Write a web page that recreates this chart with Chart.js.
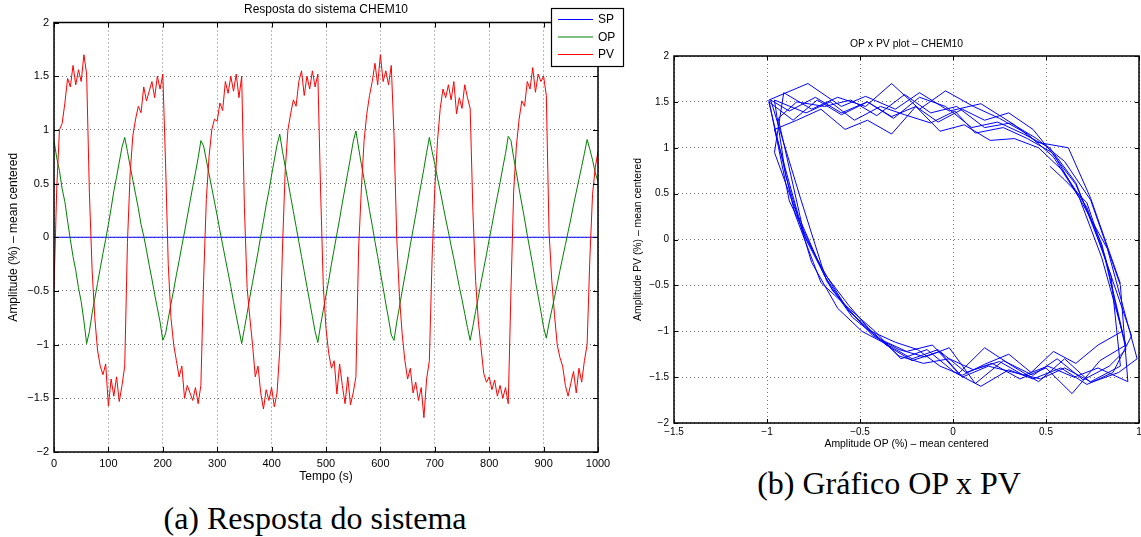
<!DOCTYPE html>
<html lang="pt-BR">
<head>
<meta charset="utf-8">
<title>Resposta do sistema CHEM10</title>
<script src="https://cdn.jsdelivr.net/npm/chart.js@4.4.1/dist/chart.umd.min.js"></script>
<style>
  html, body { margin: 0; padding: 0; background: #fff; width: 1141px; height: 537px; overflow: hidden; }
  #graficoResposta { position: absolute; left: 0; top: 0; }
  #graficoOpPv { position: absolute; left: 630px; top: 0; }
  .legenda {
    position: absolute; transform: translate(-50%, -50%);
    font-family: "Liberation Serif", "Times New Roman", serif; font-size: 32px;
    line-height: 1; color: #000; white-space: nowrap;
  }
</style>
</head>
<body>
<canvas id="graficoResposta" width="630" height="490"></canvas>
<canvas id="graficoOpPv" width="515" height="460"></canvas>
<div class="legenda" style="left:315px; top:518px;">(a) Resposta do sistema</div>
<div class="legenda" style="left:889px; top:483px;">(b) Gráfico OP x PV</div>

<script>
// Tempo (s), amostras lidas a cada 5 s
const tempo = [
  0, 5, 10, 15, 20, 25, 30, 35, 40, 45, 50, 55, 60, 65, 70, 75, 80, 85, 90, 95,
  100, 105, 110, 115, 120, 125, 130, 135, 140, 145, 150, 155, 160, 165, 170, 175, 180, 185, 190, 195,
  200, 205, 210, 215, 220, 225, 230, 235, 240, 245, 250, 255, 260, 265, 270, 275, 280, 285, 290, 295,
  300, 305, 310, 315, 320, 325, 330, 335, 340, 345, 350, 355, 360, 365, 370, 375, 380, 385, 390, 395,
  400, 405, 410, 415, 420, 425, 430, 435, 440, 445, 450, 455, 460, 465, 470, 475, 480, 485, 490, 495,
  500, 505, 510, 515, 520, 525, 530, 535, 540, 545, 550, 555, 560, 565, 570, 575, 580, 585, 590, 595,
  600, 605, 610, 615, 620, 625, 630, 635, 640, 645, 650, 655, 660, 665, 670, 675, 680, 685, 690, 695,
  700, 705, 710, 715, 720, 725, 730, 735, 740, 745, 750, 755, 760, 765, 770, 775, 780, 785, 790, 795,
  800, 805, 810, 815, 820, 825, 830, 835, 840, 845, 850, 855, 860, 865, 870, 875, 880, 885, 890, 895,
  900, 905, 910, 915, 920, 925, 930, 935, 940, 945, 950, 955, 960, 965, 970, 975, 980, 985, 990, 995,
  1000
];

// OP (%) - mean centered
const op = [
  0.90, 0.74, 0.62, 0.45, 0.33, 0.15, -0.02, -0.18, -0.31, -0.47, -0.60, -0.78, -0.99, -0.88, -0.71, -0.57, -0.43, -0.29, -0.15, -0.02,
  0.12, 0.27, 0.43, 0.56, 0.70, 0.84, 0.93, 0.80, 0.66, 0.53, 0.40, 0.27, 0.12, 0.01, -0.12, -0.26, -0.39, -0.53, -0.66, -0.79,
  -0.96, -0.90, -0.76, -0.62, -0.49, -0.35, -0.22, -0.08, 0.05, 0.19, 0.33, 0.47, 0.60, 0.74, 0.90, 0.85, 0.72, 0.59, 0.46, 0.33,
  0.20, 0.06, -0.07, -0.20, -0.33, -0.46, -0.60, -0.73, -0.86, -0.99, -0.85, -0.71, -0.56, -0.42, -0.28, -0.14, 0.01, 0.15, 0.30, 0.43,
  0.58, 0.72, 0.86, 0.96, 0.80, 0.66, 0.52, 0.38, 0.24, 0.10, -0.04, -0.18, -0.32, -0.46, -0.60, -0.74, -0.88, -0.98, -0.82, -0.68,
  -0.54, -0.40, -0.25, -0.11, 0.03, 0.17, 0.32, 0.46, 0.60, 0.74, 0.89, 0.99, 0.83, 0.68, 0.54, 0.40, 0.25, 0.11, -0.04, -0.18,
  -0.33, -0.47, -0.62, -0.76, -0.91, -0.96, -0.79, -0.65, -0.50, -0.36, -0.22, -0.07, 0.07, 0.21, 0.36, 0.50, 0.64, 0.79, 0.93, 0.80,
  0.68, 0.55, 0.43, 0.30, 0.17, 0.05, -0.08, -0.20, -0.33, -0.46, -0.58, -0.71, -0.84, -0.96, -0.83, -0.69, -0.56, -0.42, -0.29, -0.16,
  -0.02, 0.11, 0.25, 0.38, 0.51, 0.65, 0.78, 0.94, 0.90, 0.74, 0.60, 0.45, 0.31, 0.17, 0.02, -0.12, -0.26, -0.41, -0.55, -0.69,
  -0.84, -0.94, -0.80, -0.68, -0.56, -0.44, -0.31, -0.19, -0.07, 0.05, 0.17, 0.30, 0.42, 0.54, 0.66, 0.78, 0.91, 0.82, 0.72, 0.60,
  0.52
];

// PV (%) - mean centered
const pv = [
  -0.48, 0.45, 1.00, 1.06, 1.25, 1.48, 1.40, 1.60, 1.42, 1.56, 1.45, 1.70, 1.52, 0.42, -0.30, -0.75, -1.05, -1.20, -1.28, -1.18,
  -1.57, -1.32, -1.48, -1.30, -1.53, -1.38, -1.20, -0.05, 0.60, 0.95, 1.10, 1.22, 1.16, 1.40, 1.27, 1.36, 1.45, 1.30, 1.50, 1.38,
  1.52, 0.70, -0.25, -0.75, -1.00, -1.15, -1.30, -1.20, -1.50, -1.38, -1.45, -1.52, -1.40, -1.55, -1.38, -0.40, 0.35, 0.75, 1.00, 1.10,
  1.08, 1.25, 1.18, 1.45, 1.34, 1.50, 1.36, 1.52, 1.30, 1.50, 0.28, -0.47, -0.75, -1.00, -1.30, -1.20, -1.45, -1.60, -1.42, -1.52,
  -1.40, -1.58, -1.45, -1.05, -0.10, 0.62, 1.00, 1.15, 1.28, 1.22, 1.45, 1.55, 1.32, 1.50, 1.38, 1.55, 1.40, 1.52, 0.45, -0.45,
  -0.85, -1.08, -1.22, -1.15, -1.46, -1.18, -1.38, -1.55, -1.30, -1.56, -1.45, -1.30, -0.10, 0.45, 0.90, 1.15, 1.32, 1.45, 1.62, 1.42,
  1.70, 1.45, 1.55, 1.42, 1.60, 0.95, 0.00, -0.55, -0.90, -1.15, -1.32, -1.22, -1.45, -1.35, -1.52, -1.40, -1.68, -1.32, -1.15, -0.20,
  0.45, 0.90, 1.20, 1.38, 1.30, 1.42, 1.28, 1.45, 1.15, 1.30, 1.20, 1.42, 1.30, 1.20, 0.25, -0.40, -0.78, -1.03, -1.27, -1.35,
  -1.30, -1.42, -1.33, -1.48, -1.38, -1.50, -1.40, -1.55, -0.50, 0.43, 0.85, 1.10, 1.27, 1.22, 1.45, 1.38, 1.58, 1.35, 1.52, 1.45,
  1.50, 1.32, 0.05, -0.40, -0.72, -1.00, -1.12, -1.20, -1.38, -1.48, -1.36, -1.25, -1.45, -1.22, -1.35, -1.15, -1.00, -0.20, 0.40, 0.65,
  0.80
];

// SP constante em zero
const spTempo = [0, 1000];
const sp = [0, 0];

const rotulos = ["SP", "OP", "PV"];
const cores = ["#0000ff", "#008000", "#ff0000"];

// Marcas dos eixos
const marcasTempo = [0, 100, 200, 300, 400, 500, 600, 700, 800, 900, 1000];
const marcasAmplitude = [-2, -1.5, -1, -0.5, 0, 0.5, 1, 1.5, 2];
const marcasOp = [-1.5, -1, -0.5, 0, 0.5, 1];

Chart.defaults.font.family = '"Liberation Sans", Arial, Helvetica, sans-serif';
Chart.defaults.color = "#000";

function formatar(v) {
  return (v < 0 ? "\u2212" : "") + Math.abs(v);
}

function pares(xs, ys) {
  return xs.map((x, i) => ({ x: x, y: ys[i] }));
}

// moldura, marcas internas, titulo e legenda no estilo MATLAB
const estiloMatlab = {
  id: "estiloMatlab",
  afterDraw(chart, args, opts) {
    const ctx = chart.ctx;
    const a = chart.chartArea;
    const sx = chart.scales.x;
    const sy = chart.scales.y;
    ctx.save();

    ctx.strokeStyle = "#000";
    ctx.lineWidth = 1;
    ctx.beginPath();
    sx.ticks.forEach(function (t) {
      const p = Math.round(sx.getPixelForValue(t.value)) + 0.5;
      ctx.moveTo(p, a.bottom); ctx.lineTo(p, a.bottom - opts.marca);
      ctx.moveTo(p, a.top); ctx.lineTo(p, a.top + opts.marca);
    });
    sy.ticks.forEach(function (t) {
      const p = Math.round(sy.getPixelForValue(t.value)) + 0.5;
      ctx.moveTo(a.left, p); ctx.lineTo(a.left + opts.marca, p);
      ctx.moveTo(a.right, p); ctx.lineTo(a.right - opts.marca, p);
    });
    ctx.stroke();

    ctx.lineWidth = 1.5;
    ctx.strokeRect(a.left, a.top, a.right - a.left, a.bottom - a.top);

    ctx.fillStyle = "#000";
    ctx.font = opts.fonteTitulo + 'px "Liberation Sans", Arial, sans-serif';
    ctx.textAlign = "center";
    ctx.textBaseline = "middle";
    ctx.fillText(opts.titulo, (a.left + a.right) / 2, opts.yTitulo);

    if (opts.legenda) {
      const lg = opts.legenda;
      ctx.fillStyle = "#fff";
      ctx.fillRect(lg.left, lg.top, lg.width, lg.height);
      ctx.lineWidth = 1.2;
      ctx.strokeStyle = "#000";
      ctx.strokeRect(lg.left + 0.5, lg.top + 0.5, lg.width, lg.height);
      ctx.font = '12px "Liberation Sans", Arial, sans-serif';
      ctx.textAlign = "left";
      chart.data.datasets.forEach(function (ds, i) {
        const y = lg.top + 11 + i * 17.5;
        ctx.strokeStyle = ds.borderColor;
        ctx.lineWidth = 1.2;
        ctx.beginPath();
        ctx.moveTo(lg.left + 7, y + 0.5);
        ctx.lineTo(lg.left + 42, y + 0.5);
        ctx.stroke();
        ctx.fillStyle = "#000";
        ctx.fillText(ds.label, lg.left + 47, y + 1);
      });
    }
    ctx.restore();
  }
};

const grade = { color: "rgba(0,0,0,0.55)", lineWidth: 1, drawTicks: false };
const bordaGrade = { display: false, dash: [1, 3] };

// (a) Resposta do sistema
new Chart(document.getElementById("graficoResposta"), {
  type: "line",
  data: {
    datasets: [
      { label: rotulos[0], data: pares(spTempo, sp), borderColor: cores[0], order: 3 },
      { label: rotulos[1], data: pares(tempo, op), borderColor: cores[1], order: 2 },
      { label: rotulos[2], data: pares(tempo, pv), borderColor: cores[2], order: 1 }
    ]
  },
  options: {
    responsive: false,
    animation: false,
    events: [],
    elements: {
      point: { radius: 0 },
      line: { borderWidth: 1, tension: 0, fill: false }
    },
    layout: { padding: { left: 0, right: 32, top: 22.5, bottom: 0 } },
    plugins: {
      legend: { display: false },
      tooltip: { enabled: false },
      title: { display: false },
      estiloMatlab: {
        titulo: "Resposta do sistema CHEM10", fonteTitulo: 12, yTitulo: 9.5, marca: 5,
        legenda: { left: 551, top: 8, width: 72, height: 58 }
      }
    },
    scales: {
      x: {
        type: "linear", min: 0, max: 1000,
        afterBuildTicks: function (s) { s.ticks = marcasTempo.map(v => ({ value: v })); },
        afterFit: function (s) { s.height = 38; },
        grid: grade, border: bordaGrade,
        ticks: { font: { size: 11 }, padding: 5, maxRotation: 0, autoSkip: false, callback: formatar },
        title: { display: true, text: "Tempo (s)", font: { size: 12 }, padding: { top: 0, bottom: 6.5 } }
      },
      y: {
        type: "linear", min: -2, max: 2,
        afterBuildTicks: function (s) { s.ticks = marcasAmplitude.map(v => ({ value: v })); },
        afterFit: function (s) { s.width = 54; },
        grid: grade, border: bordaGrade,
        ticks: { font: { size: 11 }, padding: 5, autoSkip: false, callback: formatar },
        title: { display: true, text: "Amplitude (%) \u2013 mean centered", font: { size: 12 }, padding: { top: 6, bottom: 0 } }
      }
    }
  },
  plugins: [estiloMatlab]
});

// (b) Gráfico OP x PV
new Chart(document.getElementById("graficoOpPv"), {
  type: "scatter",
  data: {
    datasets: [
      { label: "OP x PV", data: pares(op, pv), showLine: true, borderColor: "#0000ff", borderWidth: 1, pointRadius: 0 }
    ]
  },
  options: {
    responsive: false,
    animation: false,
    events: [],
    elements: { line: { tension: 0, fill: false } },
    layout: { padding: { left: 0, right: 6, top: 56, bottom: 0 } },
    plugins: {
      legend: { display: false },
      tooltip: { enabled: false },
      title: { display: false },
      estiloMatlab: { titulo: "OP x PV plot \u2013 CHEM10", fonteTitulo: 10.4, yTitulo: 44.5, marca: 4, legenda: null }
    },
    scales: {
      x: {
        type: "linear", min: -1.5, max: 1,
        afterBuildTicks: function (s) { s.ticks = marcasOp.map(v => ({ value: v })); },
        afterFit: function (s) { s.height = 37; },
        grid: grade, border: bordaGrade,
        ticks: { font: { size: 10 }, padding: 3, maxRotation: 0, autoSkip: false, callback: formatar },
        title: { display: true, text: "Amplitude OP (%) \u2013 mean centered", font: { size: 10.4 }, padding: { top: 0, bottom: 10 } }
      },
      y: {
        type: "linear", min: -2, max: 2,
        afterBuildTicks: function (s) { s.ticks = marcasAmplitude.map(v => ({ value: v })); },
        afterFit: function (s) { s.width = 44; },
        grid: grade, border: bordaGrade,
        ticks: { font: { size: 10 }, padding: 5, autoSkip: false, callback: formatar },
        title: { display: true, text: "Amplitude PV (%) \u2013 mean centered", font: { size: 10.4 }, padding: { top: 2, bottom: 0 } }
      }
    }
  },
  plugins: [estiloMatlab]
});
</script>
</body>
</html>
